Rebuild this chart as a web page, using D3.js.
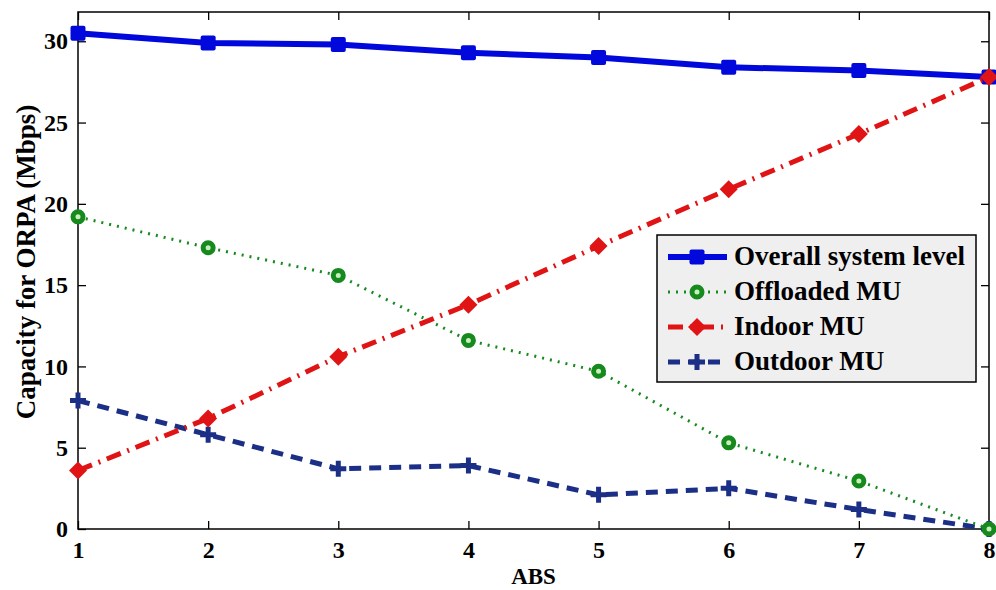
<!DOCTYPE html>
<html>
<head>
<meta charset="utf-8">
<script src="https://cdn.jsdelivr.net/npm/d3@7"></script>
<style>
  body { margin: 0; background: #fff; }
  text { font-family: "Liberation Serif", "Times New Roman", serif; font-weight: bold; }
</style>
</head>
<body>
<div id="vis"></div>
<script>
// frame
const FRAME_WIDTH = 996;
const FRAME_HEIGHT = 590;
const MARGINS = {left: 78, right: 7, top: 12, bottom: 61};

// data
const abs = [1, 2, 3, 4, 5, 6, 7, 8];
const overall = [30.5, 29.9, 29.8, 29.3, 29.0, 28.4, 28.2, 27.8];
const offloaded = [19.2, 17.3, 15.6, 11.6, 9.7, 5.3, 2.95, 0];
const indoor = [3.6, 6.8, 10.6, 13.8, 17.4, 20.9, 24.3, 27.8];
const outdoor = [7.9, 5.8, 3.7, 3.9, 2.1, 2.5, 1.2, 0];
const xTicks = [1, 2, 3, 4, 5, 6, 7, 8];
const yTicks = [0, 5, 10, 15, 20, 25, 30];

const VIS_WIDTH = FRAME_WIDTH - MARGINS.left - MARGINS.right;
const VIS_HEIGHT = FRAME_HEIGHT - MARGINS.top - MARGINS.bottom;

const svg = d3.select("#vis").append("svg")
  .attr("width", FRAME_WIDTH)
  .attr("height", FRAME_HEIGHT);

const X_SCALE = d3.scaleLinear().domain([1, 8]).range([0, VIS_WIDTH]);
const Y_SCALE = d3.scaleLinear().domain([0, 31.8]).range([VIS_HEIGHT, 0]);

const g = svg.append("g")
  .attr("transform", "translate(" + MARGINS.left + "," + MARGINS.top + ")");

// box
g.append("rect")
  .attr("width", VIS_WIDTH).attr("height", VIS_HEIGHT)
  .attr("fill", "#fff").attr("stroke", "#000").attr("stroke-width", 1.5);

// axes, matlab style inner ticks
function styleAxis(sel) {
  sel.select(".domain").remove();
  sel.selectAll(".tick line").attr("stroke", "#000").attr("stroke-width", 1.3);
  sel.selectAll(".tick text").attr("font-size", "24px").attr("fill", "#000");
}
g.append("g").attr("transform", "translate(0," + VIS_HEIGHT + ")")
  .call(d3.axisBottom(X_SCALE).tickValues(xTicks).tickSize(-8).tickPadding(12).tickFormat(d3.format("d")))
  .call(styleAxis);
g.append("g")
  .call(d3.axisTop(X_SCALE).tickValues(xTicks).tickSize(-8).tickFormat(""))
  .call(styleAxis);
g.append("g")
  .call(d3.axisLeft(Y_SCALE).tickValues(yTicks).tickSize(-8).tickPadding(10).tickFormat(d3.format("d")))
  .call(styleAxis);
g.append("g").attr("transform", "translate(" + VIS_WIDTH + ",0)")
  .call(d3.axisRight(Y_SCALE).tickValues(yTicks).tickSize(-8).tickFormat(""))
  .call(styleAxis);

// axis labels
svg.append("text")
  .attr("x", MARGINS.left + VIS_WIDTH / 2).attr("y", 584)
  .attr("text-anchor", "middle").attr("font-size", "23px").text("ABS");
svg.append("text")
  .attr("transform", "translate(35,262) rotate(-90)")
  .attr("text-anchor", "middle").attr("font-size", "27px").text("Capacity for ORPA (Mbps)");

// series
const series = [
  {name: "Overall system level", values: overall, color: "#0008dc", width: 6, dash: null, marker: "square"},
  {name: "Outdoor MU", values: outdoor, color: "#1b2f86", width: 5, dash: "12,8", marker: "plus"},
  {name: "Offloaded MU", values: offloaded, color: "#168a1e", width: 3, dash: "2,6", marker: "circle"},
  {name: "Indoor MU", values: indoor, color: "#e01414", width: 5, dash: "15,7,2,7", marker: "diamond"}
];

const line = d3.line().x((d, i) => X_SCALE(abs[i])).y(d => Y_SCALE(d));

function drawMarker(sel, s, x, y) {
  if (s.marker === "square") {
    sel.append("rect").attr("x", x - 7.5).attr("y", y - 7.5).attr("width", 15).attr("height", 15)
      .attr("rx", 2).attr("fill", s.color);
  } else if (s.marker === "circle") {
    sel.append("circle").attr("cx", x).attr("cy", y).attr("r", 5)
      .attr("fill", "#c8f0b8").attr("stroke", s.color).attr("stroke-width", 5);
  } else if (s.marker === "diamond") {
    sel.append("path")
      .attr("d", "M" + x + "," + (y - 9) + "L" + (x + 9) + "," + y + "L" + x + "," + (y + 9) + "L" + (x - 9) + "," + y + "Z")
      .attr("fill", s.color);
  } else {
    sel.append("path")
      .attr("d", "M" + (x - 8) + "," + y + "H" + (x + 8) + "M" + x + "," + (y - 8) + "V" + (y + 8))
      .attr("stroke", s.color).attr("stroke-width", 5);
  }
}

series.forEach(s => {
  g.append("path").datum(s.values)
    .attr("d", line).attr("fill", "none")
    .attr("stroke", s.color).attr("stroke-width", s.width)
    .attr("stroke-dasharray", s.dash);
  const mg = g.append("g");
  s.values.forEach((v, i) => drawMarker(mg, s, X_SCALE(abs[i]), Y_SCALE(v)));
});

// legend
const legendOrder = [series[0], series[2], series[3], series[1]];
const LEG = {x: 657, y: 235, w: 319, h: 147};
const leg = svg.append("g");
leg.append("rect").attr("x", LEG.x).attr("y", LEG.y).attr("width", LEG.w).attr("height", LEG.h)
  .attr("fill", "#efefef").attr("stroke", "#000").attr("stroke-width", 1.5);
legendOrder.forEach((s, i) => {
  const y = LEG.y + 22 + i * 35;
  leg.append("path").attr("d", "M" + (LEG.x + 11) + "," + y + "H" + (LEG.x + 70))
    .attr("stroke", s.color).attr("stroke-width", s.width).attr("stroke-dasharray", s.dash);
  drawMarker(leg, s, LEG.x + 40, y);
  leg.append("text").attr("x", LEG.x + 77).attr("y", y + 8)
    .attr("font-size", "27px").text(s.name);
});
</script>
</body>
</html>
